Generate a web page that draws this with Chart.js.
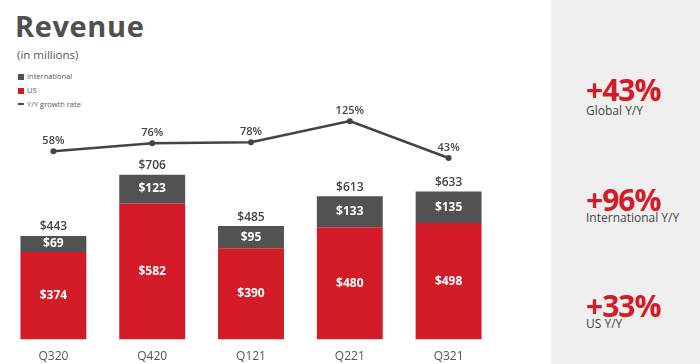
<!DOCTYPE html>
<html>
<head>
<meta charset="utf-8">
<script src="https://cdn.jsdelivr.net/npm/chart.js@4/dist/chart.umd.min.js"></script>
<style>
  body { margin: 0; width: 700px; height: 364px; overflow: hidden; background: #fff; position: relative; font-family: "Open Sans", sans-serif; }
  #title { position: absolute; left: 15px; top: 11px; font-size: 29px; line-height: 29px; font-weight: 700; color: #505050; letter-spacing: 0.6px; }
  #sub { position: absolute; left: 17px; top: 47px; font-size: 11.5px; line-height: 15px; color: #555; }
  .leg { position: absolute; left: 18px; font-size: 7.5px; line-height: 10px; color: #555; }
  .leg i { display: inline-block; width: 6px; height: 6px; margin-right: 3px; vertical-align: -1px; }
  .leg i.dash { height: 2px; vertical-align: 2px; }
  #chartBox { position: absolute; left: 0; top: 0; }
  #side { position: absolute; left: 551px; top: 0; width: 149px; height: 364px; background: #efefef; }
  .big { position: absolute; left: 35px; font-size: 30px; line-height: 30px; font-weight: 700; color: #d41b28; letter-spacing: -1px; }
  .cap { position: absolute; left: 35px; font-size: 12px; line-height: 14px; color: #444; }
</style>
</head>
<body>
<div id="title">Revenue</div>
<div id="sub">(in millions)</div>
<div class="leg" style="top:71px"><i style="background:#525252"></i>International</div>
<div class="leg" style="top:85px"><i style="background:#d41b28"></i>US</div>
<div class="leg" style="top:99px"><i class="dash" style="background:#444"></i>Y/Y growth rate</div>

<canvas id="chartBox" width="550" height="368"></canvas>

<div id="side">
  <div class="big" style="top:75px">+43%</div>
  <div class="cap" style="top:104px">Global Y/Y</div>
  <div class="big" style="top:185px">+96%</div>
  <div class="cap" style="top:211px">International Y/Y</div>
  <div class="big" style="top:291px">+33%</div>
  <div class="cap" style="top:317px">US Y/Y</div>
</div>

<script>
// Kvartali in vrednosti (v milijonih)
const quarters = ["Q320", "Q420", "Q121", "Q221", "Q321"];
const usRevenue = [374, 582, 390, 480, 498];
const intlRevenue = [69, 123, 95, 133, 135];
const totalRevenue = [443, 706, 485, 613, 633];
const growthRate = [58, 76, 78, 125, 43];

// Oznake vrednosti na stolpcih in črti
const valueLabels = {
  id: "valueLabels",
  afterDatasetsDraw(chart) {
    const ctx = chart.ctx;
    ctx.save();
    ctx.textAlign = "center";
    ctx.textBaseline = "middle";

    // US in International: belo, na sredini segmenta
    [0, 1].forEach(di => {
      const meta = chart.getDatasetMeta(di);
      const data = chart.data.datasets[di].data;
      meta.data.forEach((bar, i) => {
        ctx.fillStyle = "#fff";
        ctx.font = "bold 12px 'Open Sans'";
        ctx.fillText("$" + data[i], bar.x, (bar.y + bar.base) / 2);
      });
    });

    // skupni znesek nad stolpcem
    const topMeta = chart.getDatasetMeta(1);
    topMeta.data.forEach((bar, i) => {
      ctx.fillStyle = "#444";
      ctx.font = "600 12px 'Open Sans'";
      ctx.fillText("$" + totalRevenue[i], bar.x, bar.y - 9);
    });

    // rast
    const lineMeta = chart.getDatasetMeta(2);
    lineMeta.data.forEach((pt, i) => {
      ctx.fillStyle = "#444";
      ctx.font = "600 11px 'Open Sans'";
      ctx.fillText(growthRate[i] + "%", pt.x, pt.y - 10);
    });
    ctx.restore();
  }
};

new Chart(document.getElementById("chartBox"), {
  type: "bar",
  data: {
    labels: quarters,
    datasets: [
      { label: "US", data: usRevenue, backgroundColor: "#d41b28", order: 2 },
      { label: "International", data: intlRevenue, backgroundColor: "#525252", order: 2 },
      {
        type: "line", label: "Y/Y growth rate", data: growthRate, yAxisID: "y1",
        borderColor: "#444", borderWidth: 2.5, pointRadius: 3, pointBackgroundColor: "#444",
        pointBorderWidth: 0, tension: 0, order: 1
      }
    ]
  },
  options: {
    responsive: false,
    animation: false,
    events: [],
    layout: { padding: { left: 3, right: 52, top: 100, bottom: -6 } },
    datasets: { bar: { categoryPercentage: 1, barPercentage: 0.667 } },
    plugins: { legend: { display: false }, tooltip: { enabled: false } },
    scales: {
      x: {
        stacked: true,
        grid: { display: false, drawTicks: false },
        border: { display: false },
        ticks: { color: "#555", font: { family: "Open Sans", size: 12 }, padding: 10 }
      },
      y: { stacked: true, display: false, min: 0, max: 1024 },
      y1: { display: false, min: -361, max: 172 }
    }
  },
  plugins: [valueLabels]
});
</script>
</body>
</html>
